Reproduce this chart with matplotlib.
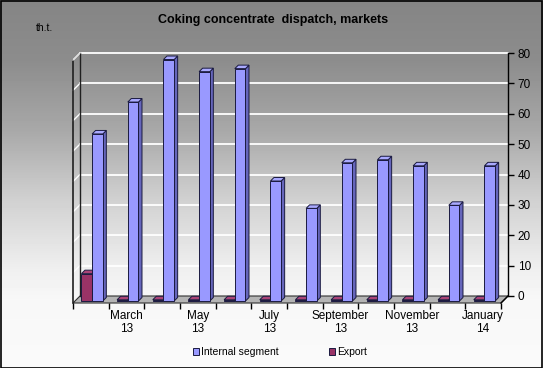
import numpy as np
import matplotlib
matplotlib.use("Agg")
import matplotlib.pyplot as plt
from matplotlib.patches import Polygon, Rectangle, Patch

plt.rcParams['font.family'] = ['Liberation Sans', 'DejaVu Sans']

# ---- data ----
months = ["February\n13", "March\n13", "April\n13", "May\n13", "June\n13", "July\n13",
          "August\n13", "September\n13", "October\n13", "November\n13", "December\n13", "January\n14"]
internal = [55.0, 65.5, 79.5, 75.5, 76.5, 39.5, 30.5, 45.5, 46.5, 44.5, 31.5, 44.5]
export = [9.0, 0.4, 0.4, 0.4, 0.4, 0.4, 0.4, 0.4, 0.4, 0.4, 0.4, 0.4]
yticks = list(range(0, 81, 10))
title = "Coking concentrate  dispatch, markets"
unit = "th.t."
series_names = ["Internal segment", "Export"]

W, H = 543, 368
fig = plt.figure(figsize=(W / 100, H / 100), dpi=100)

# background gradient
bg = fig.add_axes([0, 0, 1, 1], zorder=-10)
yy = np.arange(H)
g = np.interp(yy, [0, 60, 130, 200, 270, 300, 368], [0.52, 0.55, 0.66, 0.82, 0.94, 0.97, 0.98])
img = np.repeat(g[:, None], 4, axis=1)
bg.imshow(img, cmap='gray', vmin=0, vmax=1, aspect='auto', extent=[0, 1, 0, 1], origin='upper')
bg.axis('off')
fig.patches.append(Rectangle((0.5 / W, 0.5 / H), 1 - 1.5 / W, 1 - 1.5 / H, transform=fig.transFigure,
                             fill=False, edgecolor='black', linewidth=1.2))

n = len(months)
ymax = 80
# back wall axes (pixel geometry)
bx0, by0, bw, bh = 80, 72, 428, 243
ax = fig.add_axes([bx0 / W, by0 / H, bw / W, bh / H])
ax.set_xlim(0, n)
ax.set_ylim(0, ymax)
ax.patch.set_visible(False)
ux = n / bw
uy = ymax / bh
D = 7  # depth in px

for s in ['top', 'bottom', 'left']:
    ax.spines[s].set_visible(False)
ax.spines['right'].set_color('black')
ax.spines['right'].set_linewidth(1.0)
ax.yaxis.tick_right()
ax.set_yticks(yticks)
ax.set_yticklabels([str(v) for v in yticks], fontsize=8.5)
ax.tick_params(axis='y', direction='out', length=4, pad=3, width=1)
ax.set_xticks([])
ax.set_axisbelow(True)
for v in yticks[1:]:
    ax.plot([0, n], [v, v], color='white', lw=1.3, zorder=0.5, clip_on=False)
    # side wall grid
    ax.plot([0, -D * ux], [v, v - D * uy], color='white', lw=1.0, zorder=0.5, clip_on=False)

# floor
floor = Polygon([(0, 0), (n, 0), (n - D * ux, -D * uy), (-D * ux, -D * uy)], closed=True,
                facecolor='#b4b4b4', edgecolor='#303030', lw=0.8, zorder=1, clip_on=False)
ax.add_patch(floor)
# left wall edges
ax.plot([-D * ux, -D * ux], [-D * uy, ymax - D * uy], color='#202020', lw=1.2, zorder=1.2, clip_on=False)
ax.plot([0, 0], [0, ymax], color='#202020', lw=1.0, zorder=1.2, clip_on=False)
ax.plot([-D * ux, 0], [ymax - D * uy, ymax], color='#dddddd', lw=1.0, zorder=1.2, clip_on=False)
ax.plot([n, n - D * ux], [0, -D * uy], color='black', lw=1.0, zorder=1.2, clip_on=False)


def bar3d(x0, w, h, front, side, top, z):
    f, b = 5, 1.5
    x1 = x0 + w
    pts_front = [(x0 - f * ux, -f * uy), (x1 - f * ux, -f * uy), (x1 - f * ux, h - f * uy), (x0 - f * ux, h - f * uy)]
    pts_top = [(x0 - f * ux, h - f * uy), (x1 - f * ux, h - f * uy), (x1 - b * ux, h - b * uy), (x0 - b * ux, h - b * uy)]
    pts_side = [(x1 - f * ux, -f * uy), (x1 - b * ux, -b * uy), (x1 - b * ux, h - b * uy), (x1 - f * ux, h - f * uy)]
    for pts, c in [(pts_side, side), (pts_top, top), (pts_front, front)]:
        ax.add_patch(Polygon(pts, closed=True, facecolor=c, edgecolor='#1a1a40', lw=0.7, zorder=z, clip_on=False))


bw_ = 0.30
for i in range(n):
    bar3d(i + 0.18, bw_, export[i], '#993366', '#662244', '#aa4477', 2 + i)
    bar3d(i + 0.48, bw_, internal[i], '#9999ff', '#6666bb', '#aaaaff', 2.5 + i)

# front axes for category ticks
axf = fig.add_axes([(bx0 - D) / W, (by0 - D) / H, bw / W, bh / H])
axf.set_xlim(0, n)
axf.set_ylim(0, ymax)
axf.patch.set_visible(False)
for s in ['top', 'right', 'left', 'bottom']:
    axf.spines[s].set_visible(False)
axf.set_yticks([])
axf.set_xticks(range(n + 1))
axf.set_xticklabels([])
axf.set_xticks([i + 0.5 for i in range(n)], minor=True)
axf.set_xticklabels([m if i % 2 == 1 else "" for i, m in enumerate(months)], minor=True, fontsize=8.5,
                    linespacing=1.15)
axf.tick_params(axis='x', which='major', direction='out', length=4, width=1, color='black')
axf.tick_params(axis='x', which='minor', length=0, pad=5)

fig.text(273 / W, 1 - 20 / H, title, ha='center', va='center', fontsize=9, fontweight='bold')
fig.text(36 / W, 1 - 28 / H, unit, ha='left', va='center', fontsize=7.5)

handles = [Patch(facecolor='#9999ff', edgecolor='#1a1a40', lw=0.7),
           Patch(facecolor='#993366', edgecolor='#1a1a40', lw=0.7)]
fig.legend(handles, series_names, loc='center', bbox_to_anchor=(280 / W, 1 - 352 / H), ncol=2, frameon=False,
           fontsize=7.5, handlelength=0.6, handleheight=0.6, handletextpad=0.2, columnspacing=4.8)

fig.savefig('out.png', dpi=100)
